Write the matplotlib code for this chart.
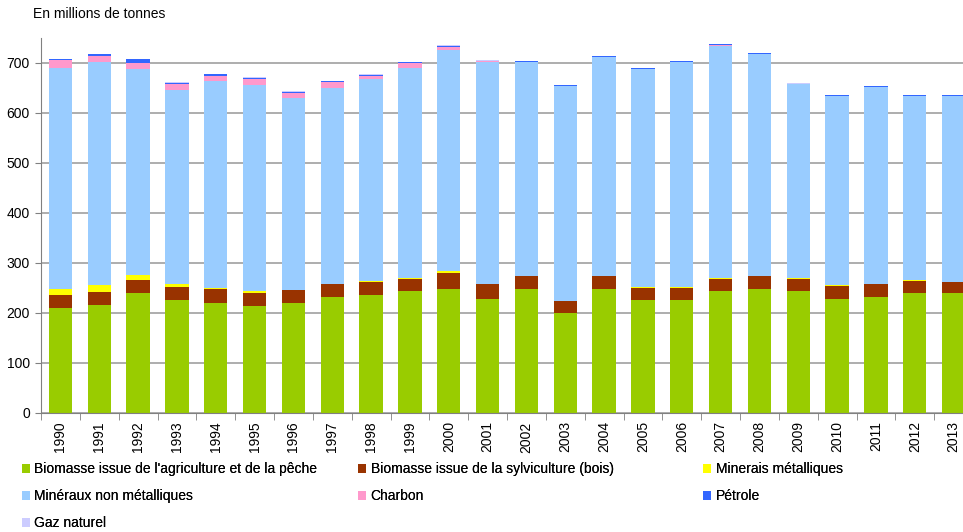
import matplotlib.pyplot as plt
import numpy as np

plt.rcParams['font.family'] = ['Liberation Sans', 'DejaVu Sans']

years = [str(y) for y in range(1990, 2014)]

agriculture = [210, 216, 241, 227, 221, 214, 221, 233, 237, 245, 248, 228,
               248, 201, 248, 226, 226, 244, 248, 244, 229, 233, 240, 240]
sylviculture = [26, 27, 25, 26, 27, 27, 25, 25, 26, 24, 33, 30,
                26, 23, 26, 25, 25, 25, 26, 25, 26, 25, 25, 22]
minerais_metal = [13, 13, 11, 5, 2, 4, 1, 1, 1, 1, 3, 1,
                  0.5, 0.5, 0.5, 0.5, 0.5, 1, 0.5, 2, 0.5, 0.5, 0.5, 0.5]
mineraux_non_metal = [441, 446, 412, 388, 414, 412, 384, 392, 404, 421, 443, 444,
                      428, 430, 438, 437, 451, 465, 444, 387, 379, 394, 369, 372]
charbon = [16, 13, 12, 12, 11, 11, 9, 12, 7, 10, 6, 0.5,
           0.5, 0.5, 0.5, 0.5, 0.5, 2, 0.5, 0.5, 0.5, 0.5, 0.5, 0.5]
petrole = [2, 3, 7, 3, 3, 3, 3, 1, 2, 1, 2, 1.5,
           1.5, 1.5, 1.5, 0.5, 1.5, 1, 0.5, 0.5, 0.5, 0.5, 0.5, 0.5]
gaz_naturel = [0.2] * 24

series = [
    ("Biomasse issue de l'agriculture et de la pêche", agriculture, '#99CC00'),
    ("Biomasse issue de la sylviculture (bois)", sylviculture, '#993300'),
    ("Minerais métalliques", minerais_metal, '#FFFF00'),
    ("Minéraux non métalliques", mineraux_non_metal, '#99CCFF'),
    ("Charbon", charbon, '#FF99CC'),
    ("Pétrole", petrole, '#3366FF'),
    ("Gaz naturel", gaz_naturel, '#CCCCFF'),
]

fig = plt.figure(figsize=(9.63, 5.32), dpi=100)
ax = fig.add_axes([41 / 963, 119 / 532, 932 / 963, 375 / 532])

x = np.arange(len(years))
bottom = np.zeros(len(years))
handles = []
for label, vals, color in series:
    b = ax.bar(x, vals, 0.6, bottom=bottom, color=color, label=label, zorder=2)
    handles.append(b)
    bottom += np.array(vals)

ax.set_xlim(-0.5, len(years) - 0.5)
ax.set_ylim(0, 750)
ax.set_yticks(range(0, 701, 100))
ax.yaxis.grid(True, color='#a0a0a0', linewidth=1.2, zorder=0)
ax.set_axisbelow(True)

ax.set_xticks(x)
ax.set_xticklabels(years, rotation=90, fontsize=10)
ax.set_xticks(np.arange(-0.5, len(years), 1), minor=True)
ax.tick_params(axis='x', which='major', length=0, pad=6)
ax.tick_params(axis='x', which='minor', length=5, color='#808080')
ax.tick_params(axis='y', length=4, color='#808080', labelsize=10, pad=4)

for side in ['top', 'right']:
    ax.spines[side].set_visible(False)
ax.spines['left'].set_color('#808080')
ax.spines['bottom'].set_color('#808080')

fig.text(33 / 963, 1 - 14 / 532, "En millions de tonnes", fontsize=10,
         va='center', ha='left')

# legend in three columns placed as in the original
columns = [(22, [0, 3, 6]), (358, [1, 4]), (703, [2, 5])]
for xpos, idx in columns:
    leg = fig.legend([handles[i] for i in idx], [series[i][0] for i in idx],
                     loc='upper left', bbox_to_anchor=(xpos / 963, 1 - 462 / 532),
                     frameon=False, fontsize=10, handlelength=0.6,
                     handleheight=0.6, handletextpad=0.3, labelspacing=0.95,
                     borderaxespad=0, borderpad=0)
    fig.add_artist(leg)

fig.savefig('out.png', dpi=100)
